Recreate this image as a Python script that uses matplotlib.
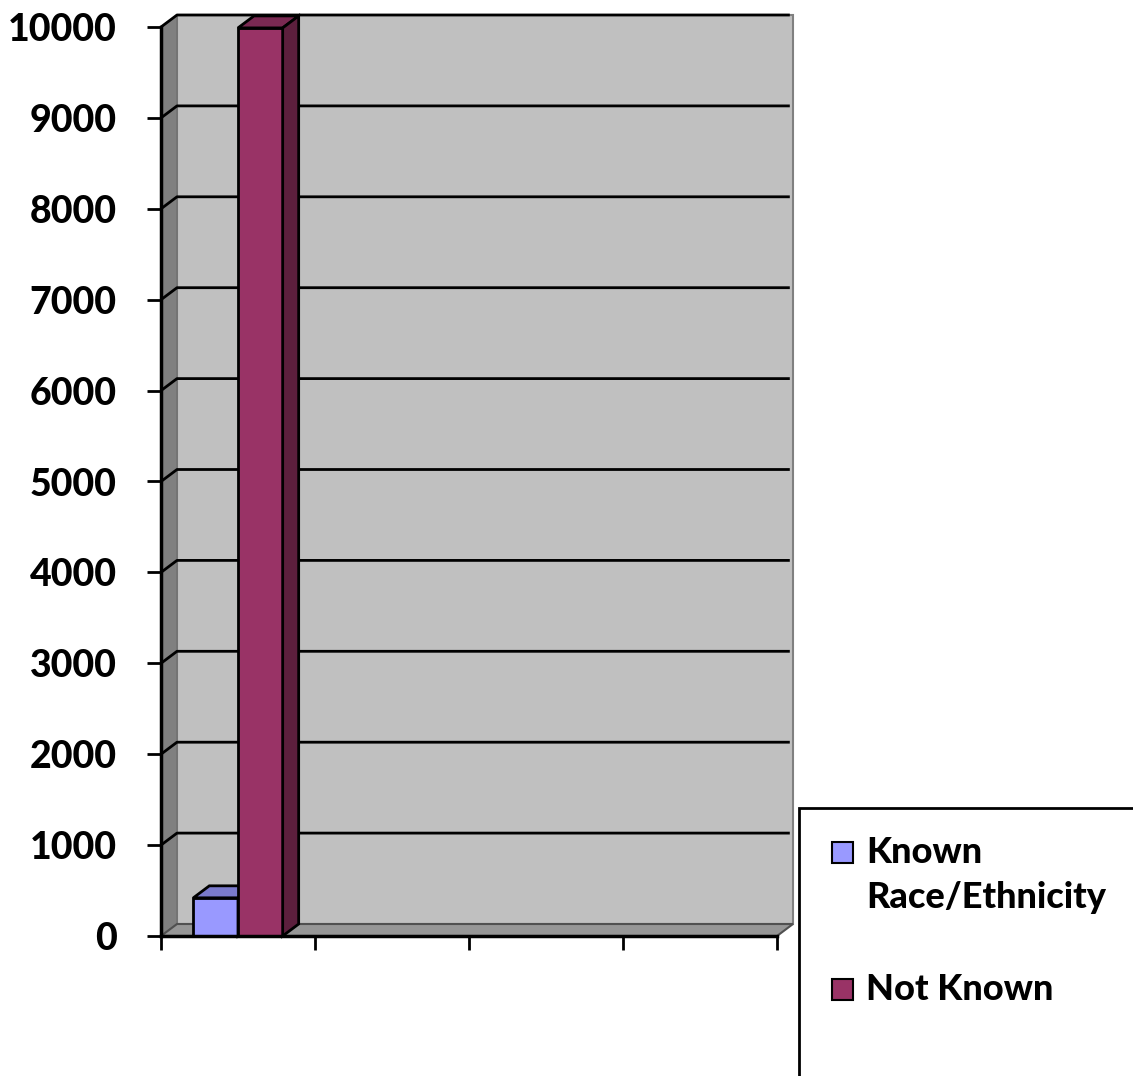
import matplotlib
matplotlib.use('Agg')
import matplotlib.pyplot as plt
from matplotlib.patches import Polygon, Rectangle
import numpy as np

# ---- data ----
categories = ['', '', '', '']
series_names = ['Known\nRace/Ethnicity', 'Not Known']
known_values = [420, np.nan, np.nan, np.nan]
not_known_values = [9990, np.nan, np.nan, np.nan]
y_ticks = [0, 1000, 2000, 3000, 4000, 5000, 6000, 7000, 8000, 9000, 10000]

# ---- style ----
front_colors = ['#9999FF', '#993366']
top_colors = ['#7A7ACC', '#7A2952']
side_colors = ['#6B6BB3', '#5C1F3D']
FONT = ['Lato', 'DejaVu Sans']
WEIGHT = 900

W, H = 1133, 1076
fig = plt.figure(figsize=(W / 100, H / 100), dpi=100)
ax = fig.add_axes([161 / W, (H - 936) / H, 616 / W, 909 / H])
ax.set_xlim(0, len(categories))
ax.set_ylim(y_ticks[0], y_ticks[-1])
ax.patch.set_visible(False)

# depth offset (16 px right, 12 px up) expressed in data units
p0 = ax.transData.transform((0, 0))
ddx, ddy = ax.transData.inverted().transform(p0 + np.array([16, 12]))

ncat = len(categories)
ymax = y_ticks[-1]

# back wall
ax.add_patch(Rectangle((ddx, ddy), ncat, ymax, facecolor='#C0C0C0',
                       edgecolor='#808080', lw=1.5, zorder=0, clip_on=False))
# left wall
ax.add_patch(Polygon([(0, 0), (ddx, ddy), (ddx, ymax + ddy), (0, ymax)],
                     closed=True, facecolor='#808080', edgecolor='#707070',
                     lw=1, zorder=0.5, clip_on=False))
# floor
ax.add_patch(Polygon([(0, 0), (ncat, 0), (ncat + ddx, ddy), (ddx, ddy)],
                     closed=True, facecolor='#969696', edgecolor='#505050',
                     lw=1.5, zorder=0.5, clip_on=False))

# gridlines on walls
for v in y_ticks[1:]:
    ax.plot([0, ddx, ncat + ddx * 0.8], [v, v + ddy, v + ddy], color='black',
            lw=2, zorder=1, clip_on=False, solid_capstyle='butt')

# bars
w = 0.29
x = np.arange(ncat)
series = [known_values, not_known_values]
for k, vals in enumerate(series):
    xs = x + 0.5 - w + k * w
    ax.bar(xs, vals, width=w, align='edge', color=front_colors[k],
           edgecolor='black', lw=2, zorder=3 + k, clip_on=False)
    for xi, v in zip(xs, vals):
        if np.isnan(v):
            continue
        ax.add_patch(Polygon([(xi, v), (xi + w, v), (xi + w + ddx, v + ddy), (xi + ddx, v + ddy)],
                             closed=True, facecolor=top_colors[k], edgecolor='black',
                             lw=2, zorder=3 + k, clip_on=False))
        ax.add_patch(Polygon([(xi + w, 0), (xi + w + ddx, ddy), (xi + w + ddx, v + ddy), (xi + w, v)],
                             closed=True, facecolor=side_colors[k], edgecolor='black',
                             lw=2, zorder=3 + k, clip_on=False))

# axes
for s in ['top', 'right']:
    ax.spines[s].set_visible(False)
for s in ['left', 'bottom']:
    ax.spines[s].set_linewidth(2.5)
    ax.spines[s].set_zorder(6)
ax.set_xticks(np.arange(ncat + 1))
ax.set_xticklabels([''] * (ncat + 1))
ax.set_yticks(y_ticks)
ax.set_yticklabels([str(t) for t in y_ticks], fontsize=27, fontweight=WEIGHT, family=FONT)
ax.tick_params(axis='y', direction='out', length=10, width=2, pad=22)
ax.tick_params(axis='x', direction='out', length=10, width=2)

# legend (manual, frame extends beyond figure edge)
fig.add_artist(Rectangle((799 / W, -0.1), 1.0, 0.1 + (H - 808) / H,
                         transform=fig.transFigure, fill=False,
                         edgecolor='black', lw=2))
legend_items = [(series_names[0], front_colors[0], 863), (series_names[1], front_colors[1], 1000)]
for label, col, base in legend_items:
    fig.add_artist(Rectangle((832 / W, (H - base) / H), 21 / W, 21 / H,
                             transform=fig.transFigure, facecolor=col,
                             edgecolor='black', lw=1.5))
    lines = label.split('\n')
    for i, line in enumerate(lines):
        fig.text(866 / W, (H - base - i * 45) / H, line, fontsize=26,
                 fontweight=WEIGHT, family=FONT, va='baseline', ha='left')

fig.savefig('out.png', dpi=100)
